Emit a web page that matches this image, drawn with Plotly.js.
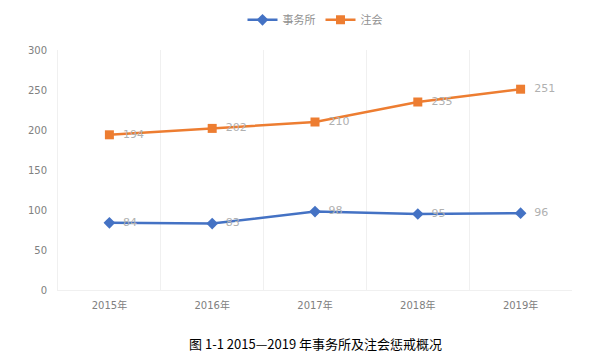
<!DOCTYPE html>
<html>
<head>
<meta charset="utf-8">
<script src="https://cdn.plot.ly/plotly-3.0.1.min.js"></script>
<style>html,body{margin:0;padding:0;background:#fff;}#chart{width:601px;height:354px;}</style>
</head>
<body>
<div id="chart"></div>
<script>
const years = ["2015年", "2016年", "2017年", "2018年", "2019年"];
const firmValues = [84, 83, 98, 95, 96];
const cpaValues = [194, 202, 210, 235, 251];
const seriesNames = ["事务所", "注会"];
const yTicks = [0, 50, 100, 150, 200, 250, 300];
const caption = "图 1-1 2015—2019 年事务所及注会惩戒概况";

const labelFont = {family: "DejaVu Sans, Noto Sans CJK SC, sans-serif", size: 11, color: "#b0b0b0"};

const traces = [
  {
    x: years, y: firmValues, name: seriesNames[0], type: "scatter",
    mode: "lines+markers+text",
    text: firmValues.map(v => "  " + v), textposition: "middle right", textfont: labelFont,
    line: {color: "#4472C4", width: 2.5},
    marker: {symbol: "diamond", size: 9, color: "#4472C4"}
  },
  {
    x: years, y: cpaValues, name: seriesNames[1], type: "scatter",
    mode: "lines+markers+text",
    text: cpaValues.map(v => "  " + v), textposition: "middle right", textfont: labelFont,
    line: {color: "#ED7D31", width: 2.5},
    marker: {symbol: "square", size: 9, color: "#ED7D31"}
  }
];

const layout = {
  width: 601, height: 354,
  margin: {l: 58, r: 29, t: 50, b: 64},
  paper_bgcolor: "#fff", plot_bgcolor: "#fff",
  showlegend: true,
  legend: {orientation: "h", x: 0.5, xanchor: "center", y: 0.985, yanchor: "top", yref: "container",
           font: {family: "Noto Sans CJK SC, sans-serif", size: 11, color: "#909090"}},
  xaxis: {
    type: "category", range: [-0.5, 4.5], tickson: "boundaries",
    showgrid: true, gridcolor: "#f0f0f0", gridwidth: 1,
    showline: true, linecolor: "#f0f0f0", ticks: "", ticklabelstandoff: 6,
    tickfont: {family: "DejaVu Sans, Noto Sans CJK SC, sans-serif", size: 10, color: "#808080"},
    fixedrange: true
  },
  yaxis: {
    range: [0, 300], tickvals: yTicks, showgrid: false, zeroline: false,
    showline: true, linecolor: "#f0f0f0", ticks: "", ticklabelstandoff: 8,
    tickfont: {family: "DejaVu Sans, Noto Sans CJK SC, sans-serif", size: 10, color: "#808080"},
    fixedrange: true
  },
  annotations: [{
    text: caption, xref: "paper", yref: "paper", x: 0.5, y: -0.175, xanchor: "center", yanchor: "top",
    showarrow: false, font: {family: "Noto Sans CJK SC, sans-serif", size: 13, color: "#000"}
  }]
};

Plotly.newPlot("chart", traces, layout, {displayModeBar: false, staticPlot: true});
</script>
</body>
</html>
